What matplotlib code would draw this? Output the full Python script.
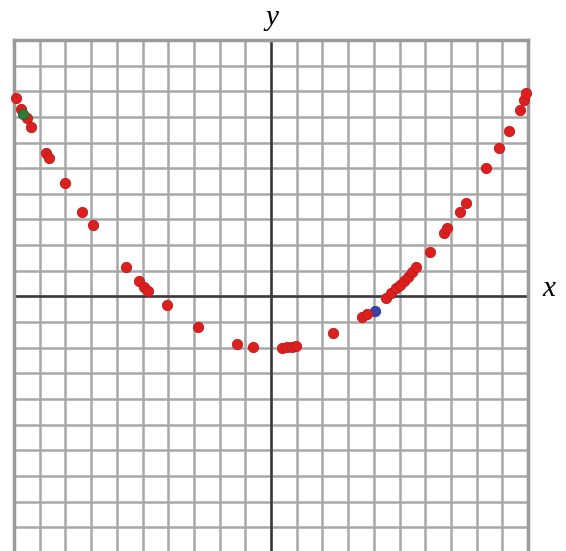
import matplotlib
matplotlib.use("Agg")
import matplotlib.pyplot as plt
import numpy as np

# Data (grid units)
red_x = [-9.91, -9.72, -9.48, -9.33, -8.74, -8.63, -8.00, -7.34, -6.91, -5.63,
         -5.12, -4.93, -4.77, -4.04, -2.83, -1.31, -0.69, 0.44, 0.63, 0.83,
         0.98, 2.42, 3.55, 3.75, 4.49, 4.68, 4.88, 5.03, 5.19, 5.34,
         5.50, 5.65, 6.20, 6.74, 6.86, 7.37, 7.60, 8.38, 8.88, 9.27,
         9.70, 9.86, 9.93]
red_y = [7.73, 7.30, 6.95, 6.60, 5.61, 5.41, 4.42, 3.30, 2.79, 1.16,
         0.61, 0.38, 0.22, -0.32, -1.18, -1.84, -1.96, -2.00, -1.96, -1.96,
         -1.92, -1.41, -0.79, -0.67, -0.05, 0.14, 0.34, 0.46, 0.61, 0.77,
         0.96, 1.16, 1.74, 2.48, 2.67, 3.30, 3.65, 5.01, 5.79, 6.45,
         7.26, 7.65, 7.93]
green_x = [-9.64]
green_y = [7.11]
blue_x = [4.06]
blue_y = [-0.56]

W, H = 566, 551
fig = plt.figure(figsize=(W / 100, H / 100), dpi=100)
left, right, top = 14, 528, 40
ax = fig.add_axes([left / W, 0, (right - left) / W, (H - top) / H])
ax.set_xlim(-10, 10)
ax.set_ylim(-9.93, 10)

ticks = np.arange(-10, 11, 1)
for t in ticks:
    ax.axvline(t, color="#a8a8a8", lw=1.8, zorder=1)
    ax.axhline(t, color="#a8a8a8", lw=1.8, zorder=1)
ax.axhline(0, color="#3a3a3a", lw=1.8, zorder=2)
ax.axvline(0, color="#3a3a3a", lw=1.8, zorder=2)

ax.set_xticks([])
ax.set_yticks([])
for side in ["left", "top", "right"]:
    ax.spines[side].set_color("#9a9a9a")
    ax.spines[side].set_linewidth(2.5)
ax.spines["bottom"].set_visible(False)

ax.scatter(red_x, red_y, s=55, color="#dc2020", edgecolors="#c01818",
           linewidths=0.6, zorder=4, clip_on=False)
ax.scatter(green_x, green_y, s=55, color="#2f7a3a", edgecolors="#22602c",
           linewidths=0.6, zorder=5, clip_on=False)
ax.scatter(blue_x, blue_y, s=55, color="#3b3fa8", edgecolors="#2c3090",
           linewidths=0.6, zorder=3, clip_on=False)

fig.text(272 / W, 1 - 18 / H, "y", fontsize=21, family="Liberation Serif",
         style="italic", ha="center", va="center")
fig.text(549 / W, 1 - 289 / H, "x", fontsize=21, family="Liberation Serif",
         style="italic", ha="center", va="center")

fig.savefig("out.png", dpi=100, facecolor="white")
